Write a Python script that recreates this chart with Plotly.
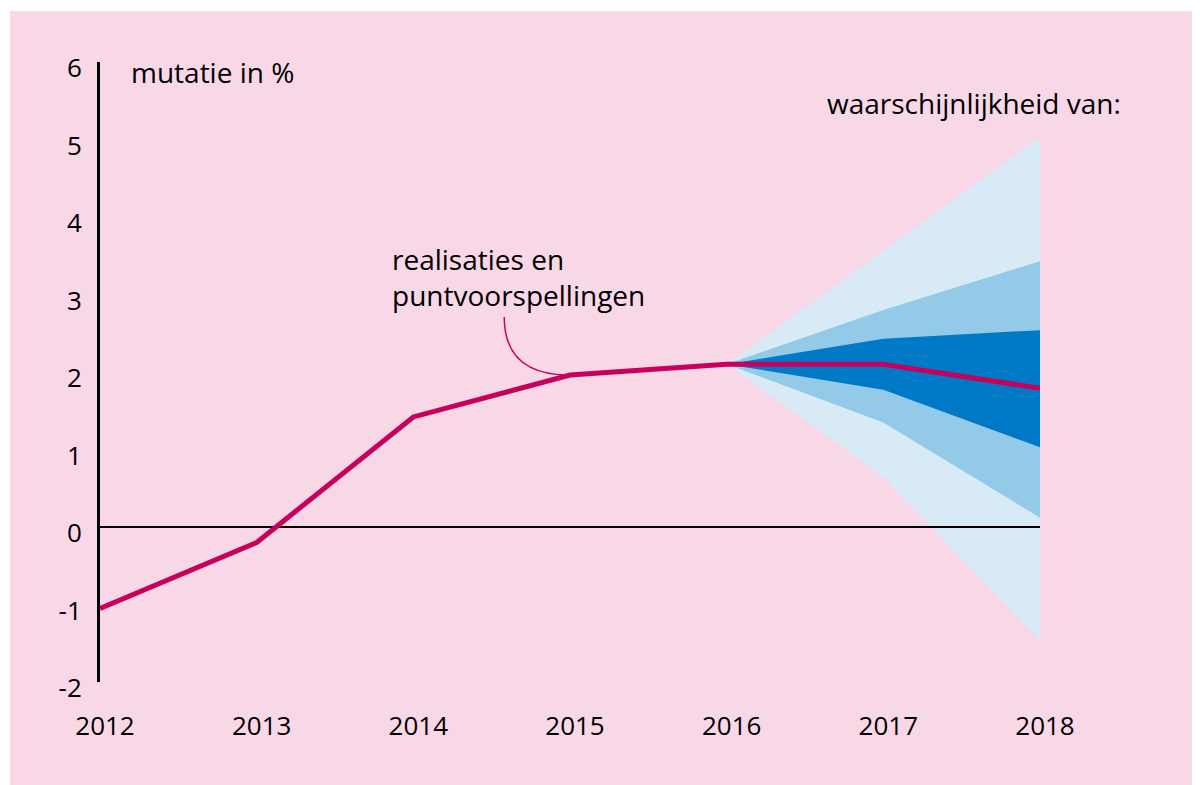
import plotly.graph_objects as go

# ---- data ----
years = [2012, 2013, 2014, 2015, 2016, 2017, 2018]
growth = [-1.05, -0.2, 1.42, 1.96, 2.10, 2.10, 1.79]

fan_years = [2016, 2017, 2018]
p90_low = [2.10, 0.65, -1.47]
p90_high = [2.10, 3.57, 5.03]
p60_low = [2.10, 1.35, 0.12]
p60_high = [2.10, 2.80, 3.43]
p30_low = [2.10, 1.77, 1.03]
p30_high = [2.10, 2.43, 2.54]

y_ticks = [-2, -1, 0, 1, 2, 3, 4, 5, 6]
y_ticktext = ["-2", "-1", "0", "1", "2", "3", "4", "5", "6"]
x_ticktext = [str(y) for y in years]

band_labels = ["90%", "60%", "30%"]
band_label_y = [4.32, 3.06, 2.12]

# ---- style ----
PINK_BG = "#f8d7e7"
LINE = "#c8005c"
C90 = "#d8eaf6"
C60 = "#93cae7"
C30 = "#0079c6"
FONT = "Open Sans"
TFS = 28

# figure is placed by the page at (8, 8); compensate
W, H = 1192, 777
ML, MT = 92, 54
PW, PH = 940, 620
MR = W - ML - PW
MB = H - MT - PH


def px(xs, ys):
    """screen pixel -> paper coords"""
    return (xs - 100) / PW, 1 - (ys - 62) / PH


fig = go.Figure()

for low, high, col in [(p90_low, p90_high, C90), (p60_low, p60_high, C60), (p30_low, p30_high, C30)]:
    fig.add_trace(go.Scatter(x=fan_years, y=low, mode="lines", line=dict(width=0, color=col),
                             hoverinfo="skip", showlegend=False))
    fig.add_trace(go.Scatter(x=fan_years, y=high, mode="lines", line=dict(width=0, color=col),
                             fill="tonexty", fillcolor=col, hoverinfo="skip", showlegend=False))

# zero line (drawn above the fan, below the main line)
fig.add_trace(go.Scatter(x=[years[0], years[-1]], y=[0, 0], mode="lines",
                         line=dict(color="black", width=2), hoverinfo="skip", showlegend=False))

fig.add_trace(go.Scatter(x=years, y=growth, mode="lines",
                         line=dict(color=LINE, width=5), showlegend=False))

# leader curve from label to the 2015 point
ex, ey = years[3], growth[3]
sx, sy = ex - 0.42, ey + 0.75
fig.add_shape(type="path", xref="x", yref="y",
              path=f"M {sx} {sy} Q {sx} {ey} {ex} {ey}",
              line=dict(color=LINE, width=1.5))

# pink background panel
fig.add_shape(type="rect", xref="paper", yref="paper", layer="below",
              x0=(2 - ML) / PW, x1=(W - ML) / PW, y0=-MB / PH, y1=1 + (MT - 3) / PH,
              fillcolor=PINK_BG, line=dict(width=0))

annos = [
    (129, 72, "mutatie in %", "left"),
    (1123, 103, "waarschijnlijkheid van:", "right"),
    (390, 277, "realisaties en<br>puntvoorspellingen", "left"),
]
for xs, ys, txt, xa in annos:
    x, y = px(xs, ys)
    fig.add_annotation(x=x, y=y, xref="paper", yref="paper", text=txt, showarrow=False,
                       xanchor=xa, yanchor="middle", align="left",
                       font=dict(family=FONT, size=TFS, color="black"))

lab_x = 2012 + (1052 - 100) / (PW / 6)
for txt, yv in zip(band_labels, band_label_y):
    fig.add_annotation(x=lab_x, y=yv, xref="x", yref="y", text=txt, showarrow=False,
                       xanchor="left", yanchor="middle",
                       font=dict(family=FONT, size=TFS, color="black"))

fig.update_layout(
    width=W, height=H,
    margin=dict(l=ML, r=MR, t=MT, b=MB),
    paper_bgcolor="white",
    plot_bgcolor="rgba(0,0,0,0)",
    font=dict(family=FONT, size=26, color="black"),
    xaxis=dict(range=[2012, 2018], tickvals=years, ticktext=x_ticktext, showgrid=False,
               zeroline=False, showline=False, ticks="", ticklabelstandoff=26,
               ticklabelshift=5, tickfont=dict(family=FONT, size=26)),
    yaxis=dict(range=[-2, 6], tickvals=y_ticks, ticktext=y_ticktext, showgrid=False,
               zeroline=False, showline=True, linecolor="black", linewidth=3,
               ticks="", ticklabelstandoff=10, ticklabelshift=6,
               tickfont=dict(family=FONT, size=26)),
)

fig.write_html("out.html")
